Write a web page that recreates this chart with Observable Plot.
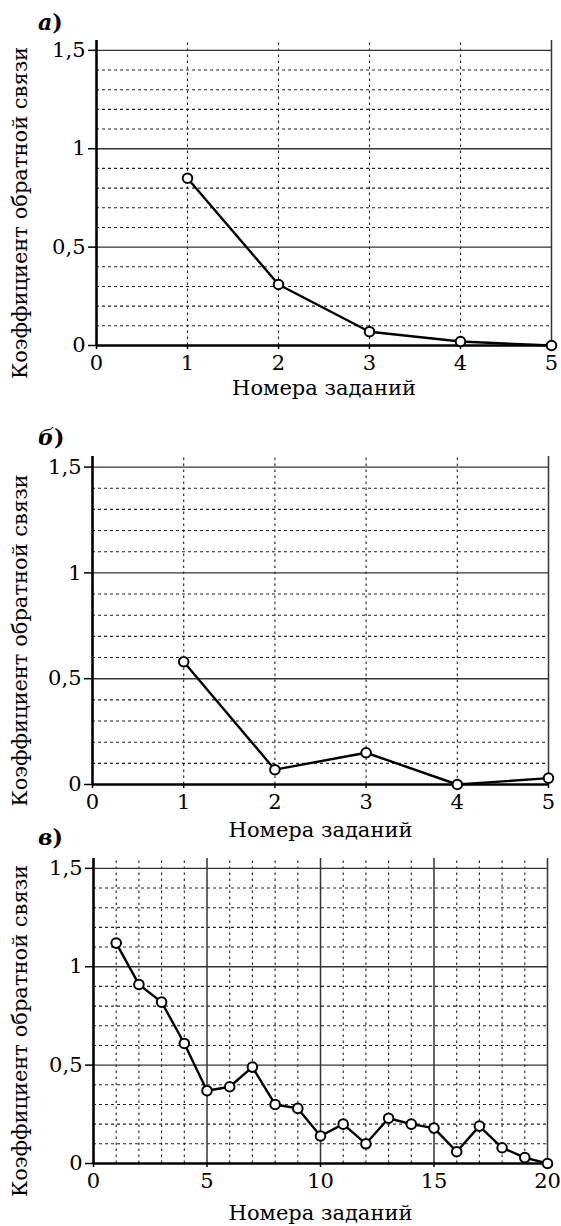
<!DOCTYPE html>
<html><head><meta charset="utf-8">
<script src="https://cdn.jsdelivr.net/npm/d3@7"></script>
<script src="https://cdn.jsdelivr.net/npm/@observablehq/plot@0.6"></script>
<style>
body{margin:0;background:#fff;width:561px;height:1226px;position:relative;overflow:hidden;font-family:"DejaVu Serif",serif;}
.panel{position:absolute;left:0;z-index:1;}
.tag{position:absolute;font-size:22px;font-weight:bold;line-height:26px;z-index:2;}
.tag i{font-style:italic;}
</style></head><body>
<div class="tag" style="top:9px;left:38px"><i>а</i>)</div>
<div id="pa" class="panel" style="top:30px"></div>
<div class="tag" style="top:424px;left:38px"><i>б</i>)</div>
<div id="pb" class="panel" style="top:446px"></div>
<div class="tag" style="top:824px;left:38px"><i>в</i>)</div>
<div id="pc" class="panel" style="top:848px"></div>
<script>
const xLabel = "Номера заданий";
const yLabel = "Коэффициент обратной связи";
const yTicks = [0, 0.5, 1, 1.5];
const yTickLabels = ["0", "0,5", "1", "1,5"];
const majorY = [0.5, 1, 1.5];
const minorY = [0.1, 0.2, 0.3, 0.4, 0.6, 0.7, 0.8, 0.9, 1.1, 1.2, 1.3, 1.4];

const tasksA = [1, 2, 3, 4, 5];
const valuesA = [0.85, 0.31, 0.07, 0.02, 0];
const tasksB = [1, 2, 3, 4, 5];
const valuesB = [0.58, 0.07, 0.15, 0, 0.03];
const tasksC = [1, 2, 3, 4, 5, 6, 7, 8, 9, 10, 11, 12, 13, 14, 15, 16, 17, 18, 19, 20];
const valuesC = [1.12, 0.91, 0.82, 0.61, 0.37, 0.39, 0.49, 0.30, 0.28, 0.14, 0.20, 0.10, 0.23, 0.20, 0.18, 0.06, 0.19, 0.08, 0.03, 0];

const xTicksAB = [0, 1, 2, 3, 4, 5];
const minorXAB = [1, 2, 3, 4];
const majorXAB = [5];
const xTicksC = [0, 5, 10, 15, 20];
const minorXC = [1, 2, 3, 4, 6, 7, 8, 9, 11, 12, 13, 14, 16, 17, 18, 19];
const majorXC = [5, 10, 15, 20];

const yTop = 1.55;

function panel(el, tasks, values, o) {
  const data = tasks.map((t, i) => ({task: t, value: values[i]}));
  const chart = Plot.plot({
    width: 561,
    height: 10 + o.frameH + o.marginBottom,
    marginTop: 10,
    marginLeft: o.marginLeft,
    marginRight: o.marginRight,
    marginBottom: o.marginBottom,
    x: {domain: [0, o.xMax]},
    y: {domain: [0, yTop]},
    style: {fontFamily: "'DejaVu Serif', serif", fontSize: "21px", color: "black", background: "transparent"},
    marks: [
      Plot.ruleY(minorY, {x1: 0, x2: o.xMax, stroke: "#222", strokeWidth: 1.1, strokeDasharray: "3,3"}),
      Plot.ruleX(o.minorX, {y1: 0, y2: yTop, stroke: "#222", strokeWidth: 1.1, strokeDasharray: "2.5,3.5"}),
      Plot.ruleY(majorY, {x1: 0, x2: o.xMax, stroke: "#333", strokeWidth: 1.4}),
      Plot.ruleX(o.majorX, {y1: 0, y2: yTop, stroke: "#333", strokeWidth: 1.5}),
      Plot.ruleX([0], {y1: 0, y2: yTop, stroke: "black", strokeWidth: 2.6}),
      Plot.ruleY([0], {x1: 0, x2: o.xMax, stroke: "black", strokeWidth: 2.6}),
      Plot.axisY({ticks: yTicks, tickFormat: d => yTickLabels[yTicks.indexOf(d)], tickSize: 8, tickPadding: 3, strokeWidth: 1.5, label: null, fontSize: 21}),
      Plot.axisX({ticks: o.xTicks, tickFormat: d => String(d), tickSize: 4, tickPadding: 6, strokeWidth: 1.5, label: null, fontSize: 21}),
      Plot.line(data, {x: "task", y: "value", stroke: "black", strokeWidth: 2.4}),
      Plot.dot(data, {x: "task", y: "value", r: 4.8, fill: "white", stroke: "black", strokeWidth: 2}),
      Plot.text([xLabel], {frameAnchor: "bottom", dy: o.xLabelDy, lineAnchor: "middle", textAnchor: "middle", fontSize: 21}),
      Plot.text([yLabel], {frameAnchor: "left", rotate: -90, dx: o.yLabelDx, dy: 20, lineAnchor: "middle", textAnchor: "middle", fontSize: 21})
    ]
  });
  document.getElementById(el).appendChild(chart);
}

panel("pa", tasksA, valuesA, {xMax: 5, xTicks: xTicksAB, minorX: minorXAB, majorX: majorXAB, marginLeft: 96, marginRight: 10, frameH: 305, marginBottom: 55, xLabelDy: 43, yLabelDx: -76});
panel("pb", tasksB, valuesB, {xMax: 5, xTicks: xTicksAB, minorX: minorXAB, majorX: majorXAB, marginLeft: 92, marginRight: 13, frameH: 328, marginBottom: 58, xLabelDy: 46, yLabelDx: -72});
panel("pc", tasksC, valuesC, {xMax: 20, xTicks: xTicksC, minorX: minorXC, majorX: majorXC, marginLeft: 93, marginRight: 14, frameH: 305, marginBottom: 63, xLabelDy: 50, yLabelDx: -73});
</script>
</body></html>
